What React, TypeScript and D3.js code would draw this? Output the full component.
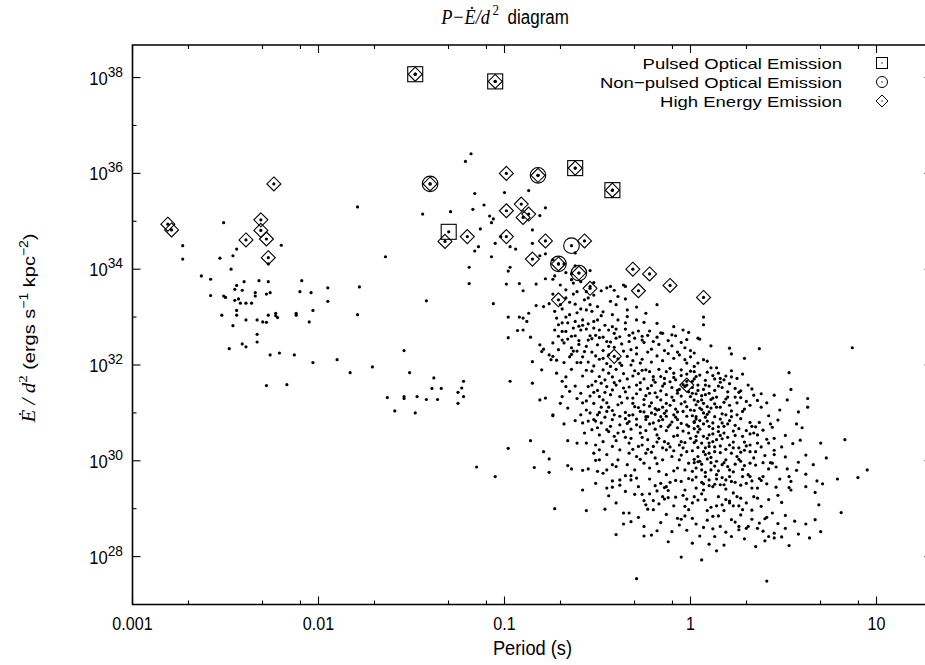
import React from 'react';
import * as d3 from 'd3';

type Pt = [number, number];
// each pair: [log10 period (s), log10 Ė/d² (ergs s^-1 kpc^-2)]

const mspPulsars: Pt[] = [
  [-2.73,34.49],[-2.73,34.21],[-2.51,34.97],[-2.53,34.23],[-2.46,34.28],[-2.44,34.42],[-2.20,34.50],[-2.27,34.11],
  [-2.47,34.00],[-2.63,33.86],[-2.58,33.79],[-2.58,33.45],[-2.40,33.74],[-2.32,33.76],[-2.27,33.74],[-2.44,33.66],
  [-2.45,33.58],[-2.41,33.56],[-2.34,33.51],[-2.34,33.44],[-2.28,33.48],[-2.26,33.51],[-2.51,33.44],[-2.50,33.41],
  [-2.45,33.35],[-2.43,33.38],[-2.42,33.29],[-2.39,33.29],[-2.36,33.29],[-2.09,33.76],[-2.10,33.53],[-2.04,33.51],
  [-1.95,33.61],[-1.95,33.33],[-2.44,33.14],[-2.44,33.04],[-2.52,33.04],[-2.27,33.04],[-2.23,33.08],[-2.23,33.03],
  [-2.22,32.99],[-2.12,33.08],[-2.12,33.04],[-2.03,33.14],[-2.05,32.90],[-2.39,32.94],[-2.33,32.94],[-2.30,32.90],
  [-2.28,32.89],[-2.46,32.82],[-2.33,32.64],[-2.33,32.48],[-2.41,32.44],[-2.39,32.38],[-2.48,32.34],[-2.26,32.21],
  [-2.21,32.25],[-2.13,32.21],[-2.03,32.05],[-2.28,31.57],[-2.17,31.59]
];

const youngPulsars: Pt[] = [
  [-1.18,36.41],[-1.21,36.25],[-1.79,35.30],[-1.44,35.15],[-1.29,35.20],[-1.16,35.58],[-1.00,35.60],[-1.17,35.25],
  [-1.11,35.34],[-1.08,35.11],[-1.06,35.05],[-1.07,34.97],[-1.13,34.84],[-1.05,34.54],[-1.14,34.47],[-1.16,34.38],
  [-1.02,34.68],[-0.97,34.47],[-0.94,34.42],[-1.07,34.26],[-1.64,34.26],[-1.19,34.04],[-0.97,34.04],[-0.98,33.96],
  [-1.19,33.70],[-0.99,33.69],[-0.92,33.70],[-1.78,33.63],[-1.42,33.34],[-1.06,33.28],[-1.79,33.05],[-0.98,33.00],
  [-0.92,33.00],[-0.93,32.72],[-0.98,32.57],[-1.54,32.30],[-1.90,32.11],[-1.71,31.96],[-1.83,31.84],[-1.51,31.84],
  [-1.38,31.73],[-1.22,31.66],[-0.97,31.66],[-1.39,31.51],[-1.34,31.51],[-1.23,31.52],[-1.25,31.43],[-1.22,31.34],
  [-1.63,31.32],[-1.54,31.34],[-1.54,31.30],[-1.47,31.34],[-1.42,31.28],[-1.36,31.28],[-1.25,31.20],[-1.59,31.04],
  [-1.48,31.00],[-0.98,30.26],[-1.15,29.87],[-1.05,29.67],[-0.87,35.64],[-0.78,35.28],[-0.81,35.12],[-0.39,33.43]
];

const normalPulsarsUpper: Pt[] = [
  [-0.85,34.82],[-0.85,34.54],[-0.62,34.34],[-0.90,33.55],[-0.81,34.28],[-0.78,34.32],[-0.74,34.20],[-0.68,34.11],
  [-0.67,33.93],[-0.64,33.90],[-0.62,34.07],[-0.54,33.97],[-0.52,33.72],[-0.54,33.64],[-0.56,33.53],[-0.59,33.74],
  [-0.63,33.71],[-0.64,33.78],[-0.74,33.79],[-0.73,33.86],[-0.78,33.80],[-0.83,33.69],[-0.70,33.67],[-0.67,33.57],
  [-0.63,33.48],[-0.61,33.53],[-0.67,33.40],[-0.74,33.48],[-0.55,33.40],[-0.52,33.46],[-0.48,33.55],[-0.45,33.61],
  [-0.43,33.64],[-0.41,33.56],[-0.36,33.67],[-0.35,33.64],[-0.18,33.26],[-0.43,33.33],[-0.40,33.26],[-0.35,33.38],
  [-0.29,33.21],[-0.24,33.08],[-0.34,33.15],[-0.54,33.26],[-0.56,33.15],[-0.59,33.17],[-0.62,33.27],[-0.70,33.26],
  [-0.76,33.28],[-0.79,33.22],[-0.83,33.24],[-0.87,33.08],[-0.90,32.98],[-0.88,32.91],[-0.90,32.73],[-0.86,32.58],
  [-0.81,32.42],[-0.79,32.33],[-0.74,32.46],[-0.71,32.60],[-0.69,32.70],[-0.72,32.98],[-0.67,33.00],[-0.65,33.05],
  [-0.62,32.91],[-0.58,32.94],[-0.50,32.94],[-0.48,33.03],[-0.42,33.05],[-0.39,32.94],[-0.34,33.01],[-0.29,32.94],
  [-0.25,32.89],[-0.18,32.87],[-0.09,32.80],[-0.02,32.53],[0.04,32.56],[-0.04,32.73],[-0.10,32.63],[-0.16,32.67],
  [-0.22,32.71],[-0.26,32.60],[-0.31,32.67],[-0.35,32.75],[-0.42,32.80],[-0.44,32.73],[-0.49,32.73],[-0.52,32.77],
  [-0.56,32.75],[-0.59,32.73],[-0.62,32.61],[-0.64,32.60],[-0.67,32.70],[-0.68,32.46],[-0.71,32.32],[-0.74,32.18],
  [-0.76,32.21],[-0.75,32.11],[-0.80,32.28],[-0.85,32.07],[-0.80,31.90],[-0.72,31.83],[-0.69,31.66],[-0.67,31.55],
  [-0.65,31.45],[-0.59,31.41],[-0.55,31.55],[-0.51,31.66],[-0.49,31.76],[-0.47,31.90],[-0.43,31.97],[-0.38,32.04],
  [-0.34,32.18],[-0.32,32.00],[-0.27,32.04],[-0.24,31.90],[-0.20,31.76],[-0.16,31.76],[-0.13,31.86],[-0.09,31.83],
  [-0.05,31.90],[-0.02,32.04],[0.02,31.97],[0.03,31.76],[-0.03,31.55],[-0.02,31.13],[-0.13,31.20],[-0.18,31.06],
  [-0.24,30.92],[-0.27,31.03],[-0.31,31.20],[-0.34,31.31],[-0.38,31.34],[-0.42,31.48],[-0.45,31.55],[-0.49,31.34],
  [-0.52,31.20],[-0.56,31.06],[-0.59,30.96],[-0.66,31.10],[-0.70,31.20],[-0.69,31.34],[-0.78,31.31],[-0.81,31.27],
  [-0.74,30.96],[-0.85,31.62],[-0.73,32.73],
  [-0.56,32.39],[-0.53,32.55],[-0.50,32.42],[-0.47,32.30],[-0.45,32.49],[-0.41,32.37],[-0.40,32.56],[-0.37,32.44],
  [-0.33,32.49],[-0.29,32.36],[-0.25,32.47],[-0.21,32.33],[-0.17,32.43],[-0.14,32.30],[-0.10,32.40],[-0.07,32.27],
  [-0.03,32.36],[0.02,32.25],[-0.55,32.06],[-0.52,31.98],[-0.49,32.12],[-0.45,32.03],[-0.40,31.91],[-0.36,31.82],
  [-0.31,31.77],[-0.27,31.63],[-0.23,31.51],[-0.19,31.42],[-0.15,31.56],[-0.11,31.65],[-0.07,31.47],[-0.05,31.35],
  [-0.09,31.26],[-0.15,31.12],[-0.21,31.21],[-0.25,31.28],[-0.29,31.40],[-0.33,31.54],[-0.38,31.67],[-0.42,31.75],
  [-0.46,31.69],[-0.50,31.47],[-0.54,31.35],[-0.58,31.21],[-0.61,31.30],[-0.62,31.56],[-0.58,31.77],[-0.56,31.89],
  [-0.61,32.05],[-0.65,32.17],[-0.61,32.29],[-0.58,32.17],[-0.64,31.91],[-0.67,31.75],[-0.45,31.21],[-0.42,31.05],
  [-0.38,30.93],[-0.49,31.01],[-0.33,30.95],[-0.29,30.87],[-0.13,30.93],[-0.07,31.02],
  [-0.73,33.12],[-0.69,33.17],[-0.65,33.31],[-0.61,33.09],[-0.57,33.36],[-0.53,33.12],[-0.50,33.22],[-0.47,33.11],
  [-0.71,32.84],[-0.66,32.88],[-0.60,32.81],[-0.55,32.86],[-0.51,32.62],[-0.69,32.52],[-0.64,32.36],[-0.60,32.43],
  [-0.72,32.10],[-0.68,32.05],[-0.63,32.29],[-0.57,32.28],
  [-0.69,32.88],[-0.66,32.54],[-0.63,32.77],[-0.60,32.51],[-0.58,32.83],[-0.55,32.52],[-0.52,32.91],[-0.49,32.57],
  [-0.46,32.83],[-0.43,32.48],[-0.40,32.75],[-0.38,32.59],[-0.35,32.88],[-0.32,32.32],[-0.30,32.56],[-0.64,32.22],
  [-0.59,32.05],[-0.53,32.27],[-0.47,32.14],[-0.44,32.39]
];

const normalPulsarsCore: Pt[] = [
  [-0.54,32.61],[-0.51,32.19],[-0.47,32.58],[-0.44,32.21],[-0.41,32.66],[-0.39,32.13],[-0.36,32.29],[-0.33,32.62],
  [-0.31,32.09],[-0.53,31.87],[-0.48,31.62],[-0.44,31.83],[-0.40,31.58],[-0.37,31.99],[-0.34,31.71],[-0.30,31.88],
  [-0.52,31.43],[-0.47,31.27],[-0.43,31.38],[-0.39,31.17],[-0.35,31.44],[-0.31,31.31],[-0.55,30.83],[-0.50,30.69],
  [-0.46,30.91],[-0.43,30.72],[-0.39,30.58],[-0.35,30.88],[-0.32,30.66],
  [-0.28,32.71],[-0.26,32.52],[-0.23,32.62],[-0.20,32.49],[-0.18,32.58],[-0.15,32.66],[-0.12,32.51],[-0.08,32.61],
  [-0.05,32.47],[-0.01,32.68],[-0.29,32.23],[-0.26,32.12],[-0.23,32.27],[-0.21,32.06],[-0.18,32.19],[-0.15,32.09],
  [-0.12,32.24],[-0.09,32.14],[-0.06,32.21],[-0.03,32.11],[0.00,32.17],[-0.28,31.82],[-0.25,31.71],[-0.22,31.86],
  [-0.19,31.64],[-0.17,31.91],[-0.14,31.72],[-0.11,31.93],[-0.08,31.69],[-0.05,31.78],[-0.02,31.66],[0.00,31.87],
  [-0.27,31.49],[-0.24,31.36],[-0.21,31.57],[-0.18,31.33],[-0.16,31.46],[-0.13,31.38],[-0.10,31.53],[-0.07,31.41],
  [-0.04,31.59],[-0.01,31.44],[-0.28,31.11],[-0.25,31.02],[-0.22,31.14],[-0.19,30.97],[-0.17,31.07],[-0.14,30.99],
  [-0.11,31.16],[-0.08,31.08],[-0.05,31.19],[-0.02,30.93],[0.00,31.06],[-0.27,30.71],[-0.24,30.63],[-0.22,30.77],
  [-0.19,30.66],[-0.16,30.72],[-0.13,30.63],[-0.10,30.81],[-0.07,30.69],[-0.04,30.62],[-0.01,30.72],[-0.26,30.33],
  [-0.23,30.24],[-0.18,30.39],[-0.15,30.27],[-0.12,30.36],[-0.09,30.21],[-0.06,30.33],[-0.02,30.19],
  [0.02,31.86],[0.05,31.79],[0.09,31.85],[0.12,31.78],[0.15,31.83],[0.18,31.69],[0.25,31.72],[0.28,31.81],
  [0.01,31.53],[0.04,31.58],[0.07,31.49],[0.10,31.56],[0.13,31.47],[0.17,31.53],[0.20,31.44],[0.24,31.51],
  [0.27,31.46],[0.31,31.58],[0.03,31.17],[0.06,31.27],[0.13,31.19],[0.16,31.12],[0.18,31.22],[0.21,31.16],
  [0.25,31.21],[0.28,31.03],[0.32,31.16],[0.34,31.37],[0.01,30.94],[0.04,30.72],[0.09,30.83],[0.12,30.79],
  [0.15,30.71],[0.21,30.84],[0.27,30.88],[0.30,30.63],[0.35,30.71],[0.39,30.64],[0.01,30.21],[0.04,30.28],
  [0.07,30.19],[0.13,30.29],[0.16,30.31],[0.19,30.24],[0.23,30.27],[0.27,30.18],[0.30,30.31],[0.38,30.29],
  [0.42,30.37],[0.02,30.03],[0.06,29.93],[0.09,30.04],[0.13,29.89],[0.17,29.92],[0.20,29.88],[0.24,29.93],
  [0.28,29.82],[0.35,29.91],[0.39,29.96],[0.03,29.66],[0.06,29.55],[0.10,29.48],[0.14,29.62],[0.17,29.65],
  [0.24,29.55],[0.27,29.49],[0.30,29.53],[0.36,29.43],[0.41,29.52],
  [0.41,31.21],[0.45,31.37],[0.48,31.06],[0.42,30.94],[0.47,30.85],[0.51,30.53],[0.45,30.47],[0.55,30.36],
  [0.49,30.29],[0.62,30.12],[0.66,29.92],[0.58,29.97],[0.52,29.83],[0.62,29.72],[0.68,29.58],[0.73,30.06],
  [0.52,31.27],[0.58,31.02],[0.70,30.37],[0.41,30.45],
  [-0.44,31.12],[-0.41,31.63],[-0.37,31.21],[-0.36,31.52],[-0.34,30.78],[-0.30,31.13],[-0.29,31.58],[-0.26,31.89],
  [-0.25,31.17],[-0.23,30.92],[-0.22,31.41],[-0.20,31.69],[-0.19,31.09],[-0.17,30.84],[-0.16,31.27],[-0.14,31.61],
  [-0.13,31.04],[-0.12,30.71],[-0.10,31.33],[-0.09,31.74],[-0.08,30.91],[-0.06,31.49],[-0.05,30.78],[-0.03,31.23],
  [-0.02,31.81],[-0.01,30.58],[0.00,31.34],[0.01,31.66],[0.03,30.87],[0.04,31.47],[0.05,30.66],[0.06,31.07],
  [0.08,31.58],[0.09,30.97],[0.11,31.28],[0.12,30.56],[0.14,31.12],[0.15,31.56],[0.17,30.98],[0.18,30.58],
  [0.20,31.33],[0.22,31.04],[0.23,30.62],[0.25,30.96],[0.26,31.43],[-0.40,30.42],[-0.35,30.49],[-0.31,30.24],
  [-0.26,30.49],[-0.21,30.18],[-0.17,30.47],[-0.11,30.29],[-0.07,30.53],[-0.03,30.38],[0.03,30.42],[0.09,30.47],
  [0.16,30.53],[0.21,30.33],[-0.46,31.43],[-0.48,31.12],[-0.51,30.83],[-0.53,31.58],[-0.56,31.25],[-0.44,30.61]
];

const normalPulsarsLower: Pt[] = [
  [-0.74,30.94],[-0.68,30.77],[-0.62,30.84],[-0.86,30.42],[-0.79,30.19],[-0.76,30.04],[-0.84,29.86],[-0.76,29.76],
  [-0.66,30.42],[-0.61,30.37],[-0.66,29.90],[-0.64,29.83],[-0.58,29.80],[-0.55,29.83],[-0.58,29.39],[-0.73,29.00],
  [-0.56,28.96],[-0.46,28.99],[-0.51,29.53],[-0.45,29.43],[-0.42,29.45],[-0.47,29.74],[-0.50,29.78],[-0.42,29.58],
  [-0.38,29.49],[-0.38,29.60],[-0.36,28.91],[-0.33,28.91],[-0.36,28.68],[-0.40,28.46],[-0.30,29.30],[-0.29,29.64],
  [-0.32,29.60],[-0.32,29.69],[-0.26,29.30],[-0.25,29.17],[-0.24,29.08],[-0.23,28.99],[-0.20,28.98],[-0.20,29.17],
  [-0.18,29.37],[-0.15,29.25],[-0.14,29.20],[-0.12,29.23],[-0.08,29.24],[-0.25,28.63],[-0.25,28.43],[-0.21,28.45],
  [-0.18,28.54],[-0.10,28.52],[-0.06,28.66],[-0.07,28.80],[-0.05,28.78],[-0.03,28.85],[-0.03,29.05],[-0.01,28.98],
  [-0.02,29.20],[-0.05,27.99],[-0.29,27.54],[-0.19,29.48],[-0.16,29.53],[-0.14,29.44],[-0.11,29.55],[-0.08,29.59],
  [-0.05,29.57],[-0.03,29.39],[-0.13,29.71],[-0.17,29.78],[-0.22,29.85],[-0.25,29.95],[-0.30,29.81],[-0.34,29.92],
  [-0.39,30.02],[-0.42,29.92],[-0.45,29.81],[-0.49,30.02],[-0.51,30.01],[-0.52,30.16],[-0.49,30.23],[-0.45,30.13],
  [-0.42,30.30],[-0.38,30.23],[-0.33,30.16],[-0.29,30.09],[-0.24,30.16],[-0.19,30.06],[-0.15,30.02],[-0.10,30.09],
  [-0.06,30.02],[-0.01,29.95],[-0.03,29.81],[-0.07,29.85],[-0.57,30.58],[-0.53,30.65],[-0.49,30.54],[-0.45,30.65],
  [-0.41,30.51],[-0.36,30.61],[-0.32,30.47],[-0.27,30.58],[-0.23,30.44],[-0.18,30.54],[-0.14,30.40],[-0.09,30.51],
  [-0.05,30.40],[0.00,30.47],[-0.56,30.37],[-0.51,30.33],[-0.47,30.40],[-0.33,30.37],[-0.28,30.30],[-0.20,30.30],
  [-0.13,30.23],[-0.04,30.27],[-0.58,30.79],[-0.52,30.86],[-0.48,30.79],[-0.42,30.86],[-0.38,30.75],[-0.33,30.82],
  [-0.29,30.75],[-0.24,30.86],[-0.20,30.79],[-0.15,30.86],[-0.11,30.75],[-0.07,30.86],[-0.02,30.75],[0.02,30.82],
  [-0.54,31.00],[-0.50,30.96],[-0.45,31.03],[-0.41,30.96],[-0.35,31.01],[-0.31,30.96],[-0.21,31.00],[-0.16,30.92],
  [-0.09,30.96],[-0.04,31.03],
  [-0.44,29.27],[-0.40,29.12],[-0.35,29.36],[-0.28,29.46],[-0.22,29.31],[-0.17,29.10],[-0.12,29.38],[-0.09,29.06],
  [-0.04,29.28],[0.04,29.18],[0.09,28.96],[0.18,28.96],[0.23,29.06],[0.30,29.12],[0.33,28.97],[0.38,29.05],
  [0.42,29.19],[0.47,29.28],[0.49,29.13],[-0.32,28.73],[-0.28,28.82],[-0.16,28.71],[-0.13,28.88],[-0.02,28.55],
  [0.07,28.61],[0.09,28.76],[0.16,28.63],[0.19,28.51],[0.24,28.72],[0.33,28.78],[0.39,28.53],[0.47,28.69],
  [0.56,28.74],[-0.12,28.31],[0.10,28.26],[0.18,28.24],[0.29,28.37],[0.35,28.21],[0.58,28.47],[0.64,28.39],
  [-0.27,30.03],[-0.22,29.62],[-0.18,29.94],[-0.13,29.46],[-0.09,29.79],[-0.05,30.12],[-0.01,29.63],[0.04,29.98],
  [0.07,29.52],[0.11,30.07],[0.15,29.79],[0.19,29.41],[0.23,29.77],[0.26,30.03],[0.31,29.71],[0.34,30.06],
  [0.37,29.63],[0.42,29.83],[0.46,29.45],[-0.35,29.69],[-0.40,29.88]
];

const slowPulsars: Pt[] = [
  [0.07,33.00],[0.07,32.84],[0.05,32.54],[0.11,32.40],[0.00,32.30],[0.21,32.35],[0.22,32.23],[0.37,32.34],
  [0.29,32.14],[0.87,32.36],[0.07,32.11],[0.09,32.08],[0.04,32.04],[0.11,31.94],[0.14,31.94],[0.22,31.88],
  [0.19,31.77],[0.22,31.75],[0.16,31.72],[0.13,31.71],[0.16,31.64],[0.21,31.61],[0.08,31.68],[0.02,31.71],
  [0.53,31.84],[0.54,31.49],[0.33,31.50],[0.38,31.40],[0.36,31.26],[0.38,31.12],[0.30,31.24],[0.27,31.32],
  [0.24,31.33],[0.19,31.29],[0.14,31.33],[0.63,31.30],[0.63,31.12],[0.29,31.08],[0.22,30.92],[0.19,30.96],
  [0.16,30.87],[0.17,30.79],[0.20,30.77],[0.24,30.74],[0.26,30.67],[0.32,30.80],[0.33,30.72],[0.37,30.80],
  [0.34,30.58],[0.36,30.54],[0.32,30.56],[0.28,30.51],[0.43,30.77],[0.44,30.70],[0.57,30.77],[0.60,30.69],
  [0.59,30.43],[0.83,30.44],[0.24,30.53],[0.20,30.49],[0.17,30.46],[0.14,30.44],[0.10,30.54],[0.07,30.51],
  [0.03,30.51],[0.02,30.38],[0.06,30.37],[0.10,30.37],[0.12,30.40],[0.23,30.39],[0.29,30.39],[0.32,30.33],
  [0.36,30.37],[0.35,30.19],[0.32,30.19],[0.29,30.22],[0.26,30.27],[0.22,30.16],[0.19,30.02],[0.16,30.17],
  [0.13,30.19],[0.10,30.16],[0.08,30.13],[0.04,30.09],[0.40,30.11],[0.45,30.22],[0.45,30.13],[0.51,30.08],
  [0.44,29.95],[0.46,29.87],[0.43,29.96],[0.57,29.80],[0.48,29.62],[0.53,29.67],[0.54,29.57],[0.53,29.44],
  [0.54,29.39],[0.62,29.46],[0.71,29.52],[0.79,29.62],[0.90,29.65],[0.95,29.81],[0.67,29.34],[0.69,29.08],
  [0.81,28.92],[0.67,28.77],[0.62,28.68],[0.70,28.52],[0.51,28.86],[0.51,28.59],[0.53,28.23],[0.44,28.91],
  [0.41,28.82],[0.40,28.79],[0.37,28.70],[0.36,28.59],[0.31,28.63],[0.30,28.59],[0.45,28.49],[0.42,28.42],
  [0.45,28.39],[0.49,28.41],[0.40,28.33],[0.41,27.49],[0.34,29.25],[0.36,29.22],[0.33,29.43],[0.33,29.58],
  [0.32,29.67],[0.38,29.59],[0.39,29.67],[0.28,29.67],[0.29,29.90],[0.32,29.95],[0.27,29.99],[0.25,30.09],
  [0.22,29.57],[0.21,29.67],[0.21,29.81],[0.19,29.60],[0.18,29.50],[0.16,29.50],[0.13,29.51],[0.12,29.46],
  [0.14,29.71],[0.11,29.81],[0.08,29.76],[0.06,29.81],[0.03,29.85],[0.01,29.78],[0.01,29.60],[0.03,29.43],
  [0.07,29.39],[0.06,29.31],[0.08,29.19],[0.02,29.25],[0.23,29.33],[0.25,29.25],[0.21,29.16],[0.27,29.22],
  [0.28,28.98],[0.26,29.06],[0.21,29.12],[0.15,29.25],[0.17,29.08],[0.14,29.06],[0.11,29.03],[0.12,28.84],
  [0.15,28.85],[0.27,28.87],[0.22,28.77],[0.19,29.19],[0.26,28.63],[0.26,28.56],[0.22,28.42],[0.13,28.42],
  [0.12,28.58],[0.05,28.43],[0.03,28.68],[0.01,28.80],[0.01,28.28],[0.01,29.12],[0.14,28.12],[0.06,27.93],
  [0.10,29.60],[0.08,29.67],
  [0.01,31.41],[0.03,31.40],[0.06,31.36],[0.08,31.38],[0.10,31.41],[0.12,31.31],[0.02,31.27],[0.04,31.24],
  [0.07,31.20],[0.09,31.13],[0.11,31.10],[0.05,31.10],[0.02,31.05],[0.07,31.00],[0.10,31.02],[0.03,30.92],
  [0.08,30.91],[0.13,30.92],[0.05,30.84],[0.02,30.80],[0.07,30.77],[0.10,30.72],[0.02,30.67],[0.12,30.67],
  [0.04,30.60],[0.15,30.61],[0.18,30.72],[0.10,30.30],[0.08,30.27],[0.05,29.99],[0.02,29.96],[0.11,29.96],
  [0.14,29.99],[0.18,29.96]
];

const pulsedOptical: Pt[] = [
  [-1.48,38.07],[-1.05,37.92],[-0.62,36.11],[-0.42,35.65],[-1.30,34.78]
];
const nonPulsedOptical: Pt[] = [
  [-1.40,35.78],[-0.82,35.96],[-0.64,34.49],[-0.71,34.11],[-0.60,33.92]
];
const highEnergy: Pt[] = [
  [-1.48,38.07],[-1.05,37.92],[-1.40,35.78],[-0.99,36.00],[-0.82,35.96],[-0.62,36.11],[-0.42,35.65],[-0.99,35.22],
  [-0.91,35.36],[-0.87,35.15],[-0.90,35.08],[-1.32,34.58],[-1.20,34.68],[-0.99,34.68],[-0.78,34.59],[-0.57,34.59],
  [-0.85,34.21],[-0.71,34.11],[-0.60,33.92],[-0.31,34.00],[-0.22,33.90],[-0.28,33.55],[-0.11,33.66],[-0.54,33.60],
  [-0.71,33.36],[-0.41,32.18],[-0.02,31.58],[0.07,33.41],[-2.81,34.94],[-2.79,34.82],[-2.24,35.78],[-2.31,35.03],
  [-2.31,34.81],[-2.28,34.63],[-2.39,34.61],[-2.27,34.24]
];

const xMajorTicks = [0.001, 0.01, 0.1, 1, 10];
const xTickLabels = ['0.001', '0.01', '0.1', '1', '10'];
const yMajorExps = [28, 30, 32, 34, 36, 38];
const yMinorExps = [29, 31, 33, 35, 37];
const xMinorMantissas = [2, 5, 8];
const legendLabels = ['Pulsed Optical Emission', 'Non\u2212pulsed Optical Emission', 'High Energy Emission'];

const SANS = "'Liberation Sans', Arial, Helvetica, sans-serif";
const SERIF = "'Liberation Serif', 'Times New Roman', serif";
const SQ = 0.87; // horizontal squeeze of the lettering

export default function App() {
  const W = 925, H = 665;
  const left = 132.5, right = 932.5, top = 45, bottom = 604.5;
  const x = d3.scaleLog().domain([0.001, 20]).range([left, right]);
  const y = d3.scaleLog().domain([1e27, Math.pow(10, 38.68)]).range([bottom, top]);
  const px = (p: Pt) => x(Math.pow(10, p[0]));
  const py = (p: Pt) => y(Math.pow(10, p[1]));

  const specials = [...pulsedOptical, ...nonPulsedOptical, ...highEnergy];
  const allDots = [...mspPulsars, ...youngPulsars, ...normalPulsarsUpper, ...normalPulsarsCore, ...normalPulsarsLower, ...slowPulsars, ...specials];

  const xMinor: number[] = [];
  for (let e = -3; e <= 1; e++) for (const m of xMinorMantissas) { const v = m * Math.pow(10, e); if (v < 20) xMinor.push(v); }

  const diamond = (cx: number, cy: number, r: number) => `M${cx},${cy - r}L${cx + r},${cy}L${cx},${cy + r}L${cx - r},${cy}Z`;
  const tr = (tx: number, ty: number) => `translate(${tx},${ty}) scale(${SQ},1)`;

  const legendRows = [63, 82, 101];
  const legendX = 882;

  return (
    <svg width={W} height={H} style={{ position: 'absolute', left: 0, top: 0, background: '#fff' }} xmlns="http://www.w3.org/2000/svg">
      <rect x={0} y={0} width={W} height={H} fill="#fff" />
      {/* title */}
      <text transform={tr(505, 24)} textAnchor="middle" fontSize={19.5} fill="#000">
        <tspan fontFamily={SERIF} fontStyle="italic" fontSize={21}>P{'\u2212'}{'\u0116'}/d</tspan>
        <tspan fontFamily={SERIF} fontSize={15} dy={-9}>{'\u2009'}2</tspan>
        <tspan fontFamily={SANS} dy={9}>{'\u2002'}diagram</tspan>
      </text>

      {/* dots */}
      <g fill="#000">
        {allDots.map((p, i) => <circle key={i} cx={px(p)} cy={py(p)} r={1.6} />)}
      </g>

      {/* markers */}
      <g fill="none" stroke="#000" strokeWidth={1.1}>
        {pulsedOptical.map((p, i) => <rect key={'s' + i} x={px(p) - 7.5} y={py(p) - 7.5} width={15} height={15} />)}
        {nonPulsedOptical.map((p, i) => <circle key={'c' + i} cx={px(p)} cy={py(p)} r={7.8} />)}
        {highEnergy.map((p, i) => <path key={'d' + i} d={diamond(px(p), py(p), 7)} />)}
      </g>

      {/* frame */}
      <g stroke="#000" strokeWidth={1.6} fill="none">
        <path d={`M${right},${top}H${left}V${bottom}H${right}V${top}`} />
      </g>

      {/* ticks */}
      <g stroke="#000" strokeWidth={1.1}>
        {xMajorTicks.map((v, i) => (
          <g key={'xM' + i}>
            <line x1={x(v)} x2={x(v)} y1={bottom} y2={bottom - 8} />
            <line x1={x(v)} x2={x(v)} y1={top} y2={top + 8} />
          </g>
        ))}
        {xMinor.map((v, i) => (
          <g key={'xm' + i}>
            <line x1={x(v)} x2={x(v)} y1={bottom} y2={bottom - 4} />
            <line x1={x(v)} x2={x(v)} y1={top} y2={top + 4} />
          </g>
        ))}
        {yMajorExps.map((e) => (
          <g key={'yM' + e}>
            <line x1={left} x2={left + 8} y1={y(Math.pow(10, e))} y2={y(Math.pow(10, e))} />
            <line x1={right} x2={right - 8} y1={y(Math.pow(10, e))} y2={y(Math.pow(10, e))} />
          </g>
        ))}
        {yMinorExps.map((e) => (
          <g key={'ym' + e}>
            <line x1={left} x2={left + 4} y1={y(Math.pow(10, e))} y2={y(Math.pow(10, e))} />
            <line x1={right} x2={right - 4} y1={y(Math.pow(10, e))} y2={y(Math.pow(10, e))} />
          </g>
        ))}
      </g>

      {/* tick labels */}
      <g fontFamily={SANS} fill="#000">
        {xMajorTicks.map((v, i) => (
          <text key={'xl' + i} transform={tr(x(v), 630)} textAnchor="middle" fontSize={18.5}>{xTickLabels[i]}</text>
        ))}
        {yMajorExps.map((e) => (
          <text key={'yl' + e} transform={`translate(123,${y(Math.pow(10, e)) + 7}) scale(0.95,1)`} textAnchor="end" fontSize={17.5}>
            <tspan>10</tspan>
            <tspan fontSize={14.5} dy={-8}>{e}</tspan>
          </text>
        ))}
      </g>

      {/* axis labels */}
      <text transform={tr((left + right) / 2, 655)} textAnchor="middle" fontFamily={SANS} fontSize={21}>Period (s)</text>
      <text transform={`translate(35,328) scale(${SQ},1) rotate(-90)`} textAnchor="middle" fontFamily={SANS} fontSize={20}>
        <tspan fontFamily={SERIF} fontStyle="italic" fontSize={21}>{'\u0116'} / d</tspan>
        <tspan fontFamily={SERIF} fontSize={15} dy={-9}>2</tspan>
        <tspan dy={9}> (ergs s</tspan>
        <tspan fontSize={14} dy={-8}>{'\u2212'}1</tspan>
        <tspan dy={8}> kpc</tspan>
        <tspan fontSize={14} dy={-8}>{'\u2212'}2</tspan>
        <tspan dy={8}>)</tspan>
      </text>

      {/* legend */}
      <g fontFamily={SANS} fill="#000">
        {legendLabels.map((t, i) => (
          <text key={'lg' + i} transform={`translate(842,${legendRows[i] + 6}) scale(1,0.84)`} textAnchor="end" fontSize={18.5}>{t}</text>
        ))}
      </g>
      <g fill="none" stroke="#000" strokeWidth={1}>
        <rect x={legendX - 5.5} y={legendRows[0] - 5.5} width={11} height={11} />
        <circle cx={legendX} cy={legendRows[1]} r={5.5} />
        <path d={diamond(legendX, legendRows[2], 6)} />
      </g>
      <g fill="#000">
        {legendRows.map((r, i) => <circle key={'ld' + i} cx={legendX} cy={r} r={0.7} />)}
      </g>
    </svg>
  );
}
